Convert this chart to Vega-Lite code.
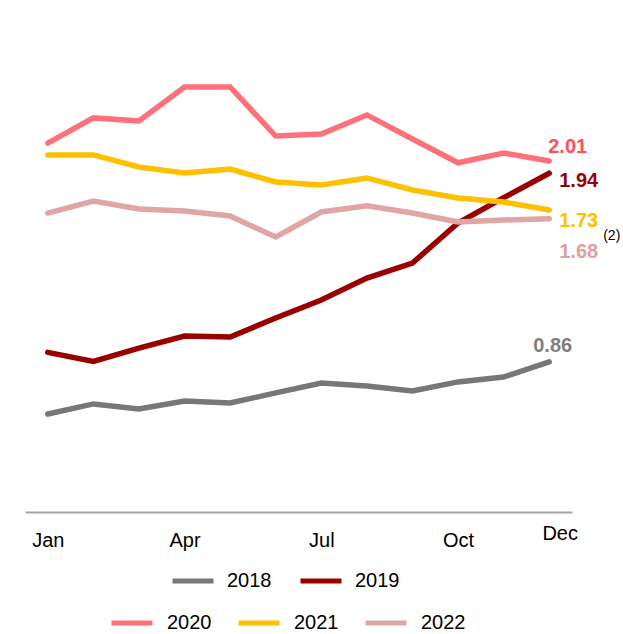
{
  "$schema": "https://vega.github.io/schema/vega-lite/v6.json",
  "autosize": "none",
  "width": 547,
  "height": 454,
  "padding": {"left": 25, "top": 58, "right": 51, "bottom": 122},
  "background": "white",
  "config": {"view": {"stroke": null}, "font": "Liberation Sans"},
  "data": {"values": [
    {"year": "2018", "month": "Jan", "value": 0.561}, {"year": "2018", "month": "Feb", "value": 0.619}, {"year": "2018", "month": "Mar", "value": 0.590}, {"year": "2018", "month": "Apr", "value": 0.636}, {"year": "2018", "month": "May", "value": 0.624}, {"year": "2018", "month": "Jun", "value": 0.682}, {"year": "2018", "month": "Jul", "value": 0.739}, {"year": "2018", "month": "Aug", "value": 0.722}, {"year": "2018", "month": "Sep", "value": 0.693}, {"year": "2018", "month": "Oct", "value": 0.745}, {"year": "2018", "month": "Nov", "value": 0.773}, {"year": "2018", "month": "Dec", "value": 0.86},
    {"year": "2019", "month": "Jan", "value": 0.914}, {"year": "2019", "month": "Feb", "value": 0.862}, {"year": "2019", "month": "Mar", "value": 0.939}, {"year": "2019", "month": "Apr", "value": 1.008}, {"year": "2019", "month": "May", "value": 1.002}, {"year": "2019", "month": "Jun", "value": 1.111}, {"year": "2019", "month": "Jul", "value": 1.214}, {"year": "2019", "month": "Aug", "value": 1.340}, {"year": "2019", "month": "Sep", "value": 1.426}, {"year": "2019", "month": "Oct", "value": 1.655}, {"year": "2019", "month": "Nov", "value": 1.800}, {"year": "2019", "month": "Dec", "value": 1.94},
    {"year": "2020", "month": "Jan", "value": 2.113}, {"year": "2020", "month": "Feb", "value": 2.257}, {"year": "2020", "month": "Mar", "value": 2.239}, {"year": "2020", "month": "Apr", "value": 2.434}, {"year": "2020", "month": "May", "value": 2.434}, {"year": "2020", "month": "Jun", "value": 2.153}, {"year": "2020", "month": "Jul", "value": 2.165}, {"year": "2020", "month": "Aug", "value": 2.274}, {"year": "2020", "month": "Sep", "value": 2.136}, {"year": "2020", "month": "Oct", "value": 2.000}, {"year": "2020", "month": "Nov", "value": 2.056}, {"year": "2020", "month": "Dec", "value": 2.01},
    {"year": "2021", "month": "Jan", "value": 2.045}, {"year": "2021", "month": "Feb", "value": 2.045}, {"year": "2021", "month": "Mar", "value": 1.976}, {"year": "2021", "month": "Apr", "value": 1.942}, {"year": "2021", "month": "May", "value": 1.964}, {"year": "2021", "month": "Jun", "value": 1.890}, {"year": "2021", "month": "Jul", "value": 1.873}, {"year": "2021", "month": "Aug", "value": 1.913}, {"year": "2021", "month": "Sep", "value": 1.844}, {"year": "2021", "month": "Oct", "value": 1.798}, {"year": "2021", "month": "Nov", "value": 1.775}, {"year": "2021", "month": "Dec", "value": 1.73},
    {"year": "2022", "month": "Jan", "value": 1.712}, {"year": "2022", "month": "Feb", "value": 1.781}, {"year": "2022", "month": "Mar", "value": 1.735}, {"year": "2022", "month": "Apr", "value": 1.724}, {"year": "2022", "month": "May", "value": 1.695}, {"year": "2022", "month": "Jun", "value": 1.575}, {"year": "2022", "month": "Jul", "value": 1.718}, {"year": "2022", "month": "Aug", "value": 1.753}, {"year": "2022", "month": "Sep", "value": 1.712}, {"year": "2022", "month": "Oct", "value": 1.661}, {"year": "2022", "month": "Nov", "value": 1.672}, {"year": "2022", "month": "Dec", "value": 1.68}
  ]},
  "encoding": {
    "x": {
      "field": "month", "type": "ordinal",
      "scale": {"type": "point", "padding": 0.5, "domain": ["Jan","Feb","Mar","Apr","May","Jun","Jul","Aug","Sep","Oct","Nov","Dec"]},
      "axis": {
        "title": null, "values": ["Jan","Apr","Jul","Oct","Dec"], "ticks": false, "grid": false,
        "domainColor": "#A6A6A6", "domainWidth": 2,
        "labelFontSize": 20, "labelColor": "#000000", "labelFont": "Liberation Sans",
        "labelBaseline": "alphabetic", "labelAngle": 0,
        "labelPadding": {"condition": {"test": "datum.value == 'Dec'", "value": 27}, "value": 34},
        "labelOffset": {"condition": {"test": "datum.value == 'Dec'", "value": 10.5}, "value": 0},
        "labelOverlap": false, "labelFlush": false, "labelBound": false
      }
    },
    "y": {"field": "value", "type": "quantitative", "scale": {"domain": [0, 2.6], "nice": false, "zero": false}, "axis": null}
  },
  "layer": [
    {
      "transform": [{"filter": "datum.year == '2018' || datum.year == '2019'"}],
      "mark": {"type": "line", "strokeWidth": 5.5, "strokeCap": "round", "strokeJoin": "miter"},
      "encoding": {
        "color": {
          "field": "year", "type": "nominal",
          "scale": {"domain": ["2018","2019"], "range": ["#777777","#990000"]},
          "legend": {
            "title": null, "orient": "none", "direction": "horizontal", "legendX": 145, "legendY": 500,
            "padding": 0, "symbolType": "stroke", "symbolSize": 1681, "symbolStrokeWidth": 5,
            "labelFontSize": 20, "labelFont": "Liberation Sans", "labelColor": "#000000", "labelOffset": 11, "columnPadding": 18
          }
        }
      }
    },
    {
      "transform": [{"filter": "datum.year == '2020' || datum.year == '2021' || datum.year == '2022'"}],
      "mark": {"type": "line", "strokeWidth": 5.5, "strokeCap": "round", "strokeJoin": "miter"},
      "encoding": {
        "stroke": {
          "field": "year", "type": "nominal",
          "scale": {"domain": ["2020","2021","2022"], "range": ["#FF717A","#FFC000","#E0A5A5"]},
          "legend": {
            "title": null, "orient": "none", "direction": "horizontal", "legendX": 84, "legendY": 542,
            "padding": 0, "symbolType": "stroke", "symbolSize": 1681, "symbolStrokeWidth": 5,
            "labelFontSize": 20, "labelFont": "Liberation Sans", "labelColor": "#000000", "labelOffset": 12, "columnPadding": 16
          }
        }
      }
    },
    {
      "transform": [{"filter": "datum.year == '2020' && datum.month == 'Dec'"}],
      "mark": {"type": "text", "align": "left", "baseline": "alphabetic", "dx": -1, "dy": -8, "fontSize": 20, "fontWeight": "bold", "font": "Liberation Sans", "color": "#FF4F5B"},
      "encoding": {"text": {"field": "value", "type": "quantitative", "format": ".2f"}}
    },
    {
      "transform": [{"filter": "datum.year == '2019' && datum.month == 'Dec'"}],
      "mark": {"type": "text", "align": "left", "baseline": "alphabetic", "dx": 10, "dy": 14, "fontSize": 20, "fontWeight": "bold", "font": "Liberation Sans", "color": "#990000"},
      "encoding": {"text": {"field": "value", "type": "quantitative", "format": ".2f"}}
    },
    {
      "transform": [{"filter": "datum.year == '2021' && datum.month == 'Dec'"}],
      "mark": {"type": "text", "align": "left", "baseline": "alphabetic", "dx": 10, "dy": 17, "fontSize": 20, "fontWeight": "bold", "font": "Liberation Sans", "color": "#FFC000"},
      "encoding": {"text": {"field": "value", "type": "quantitative", "format": ".2f"}}
    },
    {
      "transform": [{"filter": "datum.year == '2022' && datum.month == 'Dec'"}],
      "mark": {"type": "text", "align": "left", "baseline": "alphabetic", "dx": 10, "dy": 39, "fontSize": 20, "fontWeight": "bold", "font": "Liberation Sans", "color": "#E0A0A0"},
      "encoding": {"text": {"field": "value", "type": "quantitative", "format": ".2f"}}
    },
    {
      "transform": [{"filter": "datum.year == '2022' && datum.month == 'Dec'"}],
      "mark": {"type": "text", "align": "left", "baseline": "alphabetic", "dx": 54, "dy": 21, "fontSize": 14, "font": "Liberation Sans", "color": "#000000"},
      "encoding": {"text": {"value": "(2)"}}
    },
    {
      "transform": [{"filter": "datum.year == '2018' && datum.month == 'Dec'"}],
      "mark": {"type": "text", "align": "left", "baseline": "alphabetic", "dx": -16, "dy": -10, "fontSize": 20, "fontWeight": "bold", "font": "Liberation Sans", "color": "#7F7F7F"},
      "encoding": {"text": {"field": "value", "type": "quantitative", "format": ".2f"}}
    }
  ]
}
